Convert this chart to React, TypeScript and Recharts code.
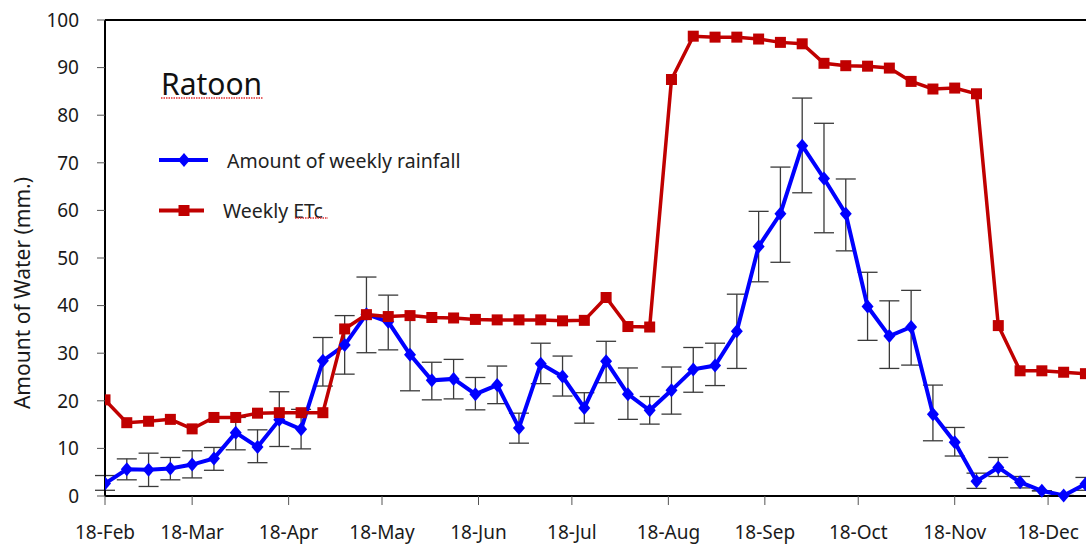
import {
  ErrorBar,
  Label,
  Legend,
  Line,
  LineChart,
  ReferenceLine,
  XAxis,
  YAxis,
} from "recharts";

// days since 18-Feb, one point per week
const days = [
  0, 7, 14, 21, 28, 35, 42, 49, 56, 63, 70, 77, 84, 91, 98, 105, 112, 119, 126,
  133, 140, 147, 154, 161, 168, 175, 182, 189, 196, 203, 210, 217, 224, 231,
  238, 245, 252, 259, 266, 273, 280, 287, 294, 301, 308, 315,
];

const rainfall = [
  2.6, 5.6, 5.5, 5.8, 6.6, 7.9, 13.3, 10.3, 16.0, 14.0, 28.4, 31.7, 38.2, 36.6,
  29.7, 24.3, 24.6, 21.4, 23.3, 14.3, 27.8, 25.1, 18.5, 28.3, 21.4, 18.0, 22.2,
  26.6, 27.4, 34.6, 52.4, 59.3, 73.6, 66.7, 59.3, 39.8, 33.6, 35.5, 17.2, 11.3,
  3.1, 6.0, 2.9, 1.1, 0.1, 2.5,
];

const rainHigh = [
  4.3, 7.8, 9.0, 8.1, 9.5, 10.2, 16.5, 13.9, 21.9, 18.2, 33.3, 37.9, 46.0, 42.2,
  37.9, 28.1, 28.7, 24.9, 27.3, 17.4, 32.1, 29.4, 21.7, 32.5, 26.9, 20.9, 27.1,
  31.2, 32.1, 42.4, 59.8, 69.1, 83.6, 78.3, 66.6, 47.0, 41.0, 43.2, 23.3, 14.4,
  4.8, 8.1, 4.1, 1.1, 0.1, 3.9,
];

const rainLow = [
  1.2, 3.4, 2.0, 3.4, 3.8, 5.4, 9.7, 7.0, 10.4, 9.9, 23.1, 25.6, 30.1, 30.7,
  22.1, 20.2, 20.4, 18.1, 19.4, 11.1, 23.6, 21.0, 15.3, 23.8, 16.1, 15.1, 17.2,
  21.8, 23.2, 26.8, 45.0, 49.1, 63.7, 55.3, 51.5, 32.7, 26.8, 27.5, 11.6, 8.4,
  1.6, 4.1, 1.7, 1.1, 0.1, 1.2,
];

const etc = [
  20.2, 15.4, 15.7, 16.1, 14.1, 16.5, 16.5, 17.4, 17.5, 17.5, 17.5, 35.1, 38.1,
  37.7, 37.9, 37.5, 37.4, 37.1, 37.0, 37.0, 37.0, 36.8, 36.9, 41.7, 35.6, 35.5,
  87.5, 96.6, 96.4, 96.4, 96.0, 95.3, 95.0, 90.9, 90.4, 90.3, 89.9, 87.1, 85.5,
  85.7, 84.5, 35.8, 26.3, 26.3, 26.0, 25.7,
];

const monthTicks = [0, 28, 59, 89, 120, 150, 181, 212, 242, 273, 303];
const monthLabels = [
  "18-Feb", "18-Mar", "18-Apr", "18-May", "18-Jun", "18-Jul",
  "18-Aug", "18-Sep", "18-Oct", "18-Nov", "18-Dec",
];
const yTicks = [0, 10, 20, 30, 40, 50, 60, 70, 80, 90, 100];

const rows = days.map((day, i) => ({
  day,
  rain: rainfall[i],
  rainErr: [rainfall[i] - rainLow[i], rainHigh[i] - rainfall[i]],
  etc: etc[i],
}));

const BLUE = "#0000ff";
const RED = "#c00000";
const FONT = "'Noto Sans', sans-serif";

const Diamond = (props: any) => {
  const { cx, cy, index } = props;
  if (cx == null || cy == null) return <g key={index} />;
  return (
    <path
      key={`d${index}`}
      d={`M${cx},${cy - 7}L${cx + 6},${cy}L${cx},${cy + 7}L${cx - 6},${cy}Z`}
      fill={BLUE}
    />
  );
};

const Square = (props: any) => {
  const { cx, cy, index } = props;
  if (cx == null || cy == null) return <g key={index} />;
  return <rect key={`s${index}`} x={cx - 5.5} y={cy - 5.5} width={11} height={11} fill={RED} />;
};

const Squiggle = ({ x1, x2, y }: { x1: number; x2: number; y: number }) => (
  <line x1={x1} x2={x2} y1={y} y2={y} stroke="#e03030" strokeWidth={1.5} strokeDasharray="1.5 1" />
);

function renderLegend() {
  return (
    <svg width={420} height={180} style={{ fontFamily: FONT }}>
      <text x={21} y={45} fontSize={30} fill="#111">
        Ratoon
      </text>
      <Squiggle x1={21} x2={123} y={48} />
      <line x1={19} x2={68} y1={110} y2={110} stroke={BLUE} strokeWidth={4} />
      <Diamond cx={44} cy={110} index="lg1" />
      <text x={87} y={110} fontSize={19.5} fill="#222" dominantBaseline="central">
        Amount of weekly rainfall
      </text>
      <line x1={19} x2={64} y1={160.5} y2={160.5} stroke={RED} strokeWidth={4} />
      <Square cx={44} cy={160.5} index="lg2" />
      <text x={83} y={160.5} fontSize={19.5} fill="#222" dominantBaseline="central">
        Weekly ETc
      </text>
      <Squiggle x1={155} x2={188} y={168} />
    </svg>
  );
}

export default function App() {
  return (
    <div
      style={{
        position: "fixed",
        left: 0,
        top: 0,
        width: 1086,
        height: 545,
        overflow: "hidden",
        background: "#fff",
      }}
    >
      <LineChart
        width={1110}
        height={545}
        data={rows}
        margin={{ top: 20, right: 9, bottom: 0, left: 0 }}
        style={{ fontFamily: FONT }}
      >
        <XAxis
          type="number"
          dataKey="day"
          domain={[0, 320]}
          ticks={monthTicks}
          interval={0}
          tickFormatter={(d: number) => monthLabels[monthTicks.indexOf(d)]}
          height={49}
          tickSize={9}
          tickMargin={21}
          axisLine={{ stroke: "#000", strokeWidth: 2 }}
          tickLine={{ stroke: "#555", strokeWidth: 1 }}
          tick={{ fill: "#1a1a1a", fontSize: 19 }}
          allowDataOverflow
        />
        <YAxis
          type="number"
          domain={[0, 100]}
          ticks={yTicks}
          interval={0}
          width={105}
          tickSize={8}
          tickMargin={18}
          axisLine={{ stroke: "#000", strokeWidth: 2 }}
          tickLine={{ stroke: "#555", strokeWidth: 1 }}
          tick={{ fill: "#1a1a1a", fontSize: 19 }}
        >
          <Label
            content={() => (
              <text
                x={22}
                y={293}
                transform="rotate(-90 22 293)"
                textAnchor="middle"
                dominantBaseline="central"
                fontSize={21}
                fill="#1a1a1a"
                style={{ fontFamily: FONT }}
              >
                Amount of Water (mm.)
              </text>
            )}
          />
        </YAxis>
        <ReferenceLine y={100} stroke="#000" strokeWidth={2} />
        <Legend
          layout="vertical"
          align="center"
          verticalAlign="middle"
          content={renderLegend}
          wrapperStyle={{ position: "absolute", left: 140, top: 50, width: 420, height: 180 }}
        />
        <Line
          dataKey="rain"
          name="Amount of weekly rainfall"
          stroke={BLUE}
          strokeWidth={4}
          dot={Diamond}
          activeDot={false}
          isAnimationActive={false}
        >
          <ErrorBar
            dataKey="rainErr"
            direction="y"
            width={10}
            stroke="#3a3a3a"
            strokeWidth={1.3}
            isAnimationActive={false}
          />
        </Line>
        <Line
          dataKey="etc"
          name="Weekly ETc"
          stroke={RED}
          strokeWidth={3.5}
          dot={Square}
          activeDot={false}
          isAnimationActive={false}
        />
      </LineChart>
    </div>
  );
}
